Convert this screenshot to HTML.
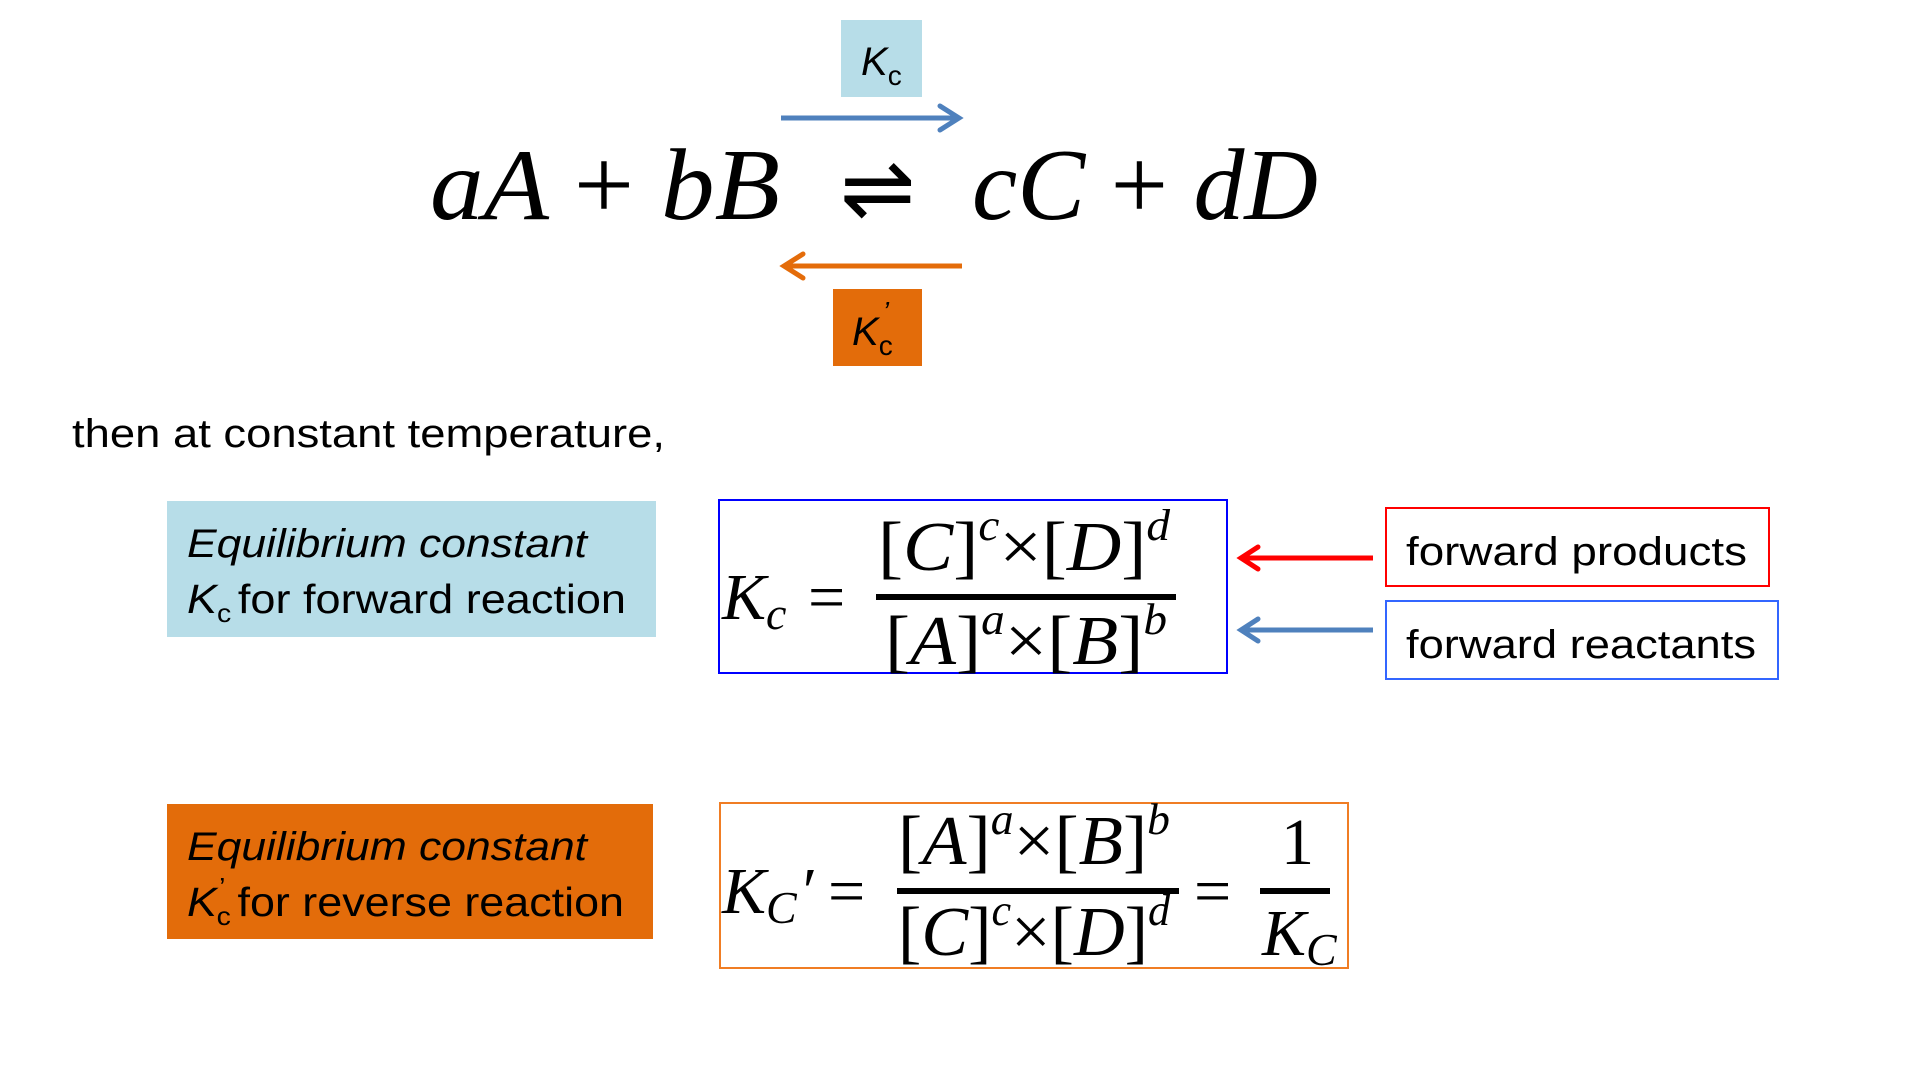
<!DOCTYPE html>
<html><head><meta charset="utf-8"><style>
html,body{margin:0;padding:0;background:#fff;width:1920px;height:1080px;overflow:hidden}
svg{display:block}
.m{font-family:"Liberation Serif",serif;font-style:italic}
.r{font-family:"Liberation Serif",serif}
.s{font-family:"Liberation Sans",sans-serif}
</style></head><body>
<svg width="1920" height="1080" viewBox="0 0 1920 1080" xmlns="http://www.w3.org/2000/svg">
<rect x="841" y="20" width="81" height="77" fill="#b7dde8"/>
<text x="861" y="75" class="s" font-style="italic" font-size="40">K<tspan font-size="28" dy="10" font-style="normal">c</tspan></text>
<line x1="781" y1="118" x2="958" y2="118" stroke="#4f81bd" stroke-width="5"/>
<polyline points="940,106 959,118 940,130" fill="none" stroke="#4f81bd" stroke-width="5" stroke-linecap="round"/>
<text x="430" y="219" class="m" font-size="102" textLength="350" lengthAdjust="spacingAndGlyphs">aA <tspan class="r" font-style="normal">+</tspan> bB</text>
<text x="840" y="219" class="r" font-size="90">⇌</text>
<text x="972" y="219" class="m" font-size="102" textLength="346" lengthAdjust="spacingAndGlyphs">cC <tspan class="r" font-style="normal">+</tspan> dD</text>
<line x1="784" y1="266" x2="962" y2="266" stroke="#e46c0a" stroke-width="5"/>
<polyline points="803,254 784,266 803,278" fill="none" stroke="#e46c0a" stroke-width="5" stroke-linecap="round"/>
<rect x="833" y="289" width="89" height="77" fill="#e36c0a"/>
<text x="852" y="345" class="s" font-style="italic" font-size="40">K<tspan font-size="28" dy="10" font-style="normal">c</tspan><tspan font-size="28" dx="-10" dy="-34">’</tspan></text>
<text x="72" y="447" class="s" font-size="40" textLength="593" lengthAdjust="spacingAndGlyphs">then at constant temperature,</text>
<rect x="167" y="501" width="489" height="136" fill="#b7dde8"/>
<text x="187" y="557" class="s" font-style="italic" font-size="40" textLength="400" lengthAdjust="spacingAndGlyphs">Equilibrium constant</text>
<text x="187" y="613" class="s" font-size="41" textLength="439" lengthAdjust="spacingAndGlyphs"><tspan font-style="italic">K</tspan><tspan font-size="26" dy="9">c</tspan><tspan dy="-9" dx="6">for forward reaction</tspan></text>
<rect x="719" y="500" width="508" height="173" fill="none" stroke="#0000ff" stroke-width="2"/>
<text x="722" y="619" class="m" font-size="66">K<tspan font-size="46" dy="10">c</tspan></text>
<text x="808" y="619" class="r" font-size="66">=</text>
<text x="878" y="570" class="r" font-size="70" textLength="292" lengthAdjust="spacingAndGlyphs">[<tspan class="m">C</tspan>]<tspan class="m" font-size="44" dy="-30">c</tspan><tspan dy="30">×[</tspan><tspan class="m">D</tspan>]<tspan class="m" font-size="44" dy="-30">d</tspan></text>
<rect x="876" y="594" width="300" height="6" fill="#000"/>
<text x="885" y="664" class="r" font-size="70" textLength="282" lengthAdjust="spacingAndGlyphs">[<tspan class="m">A</tspan>]<tspan class="m" font-size="44" dy="-30">a</tspan><tspan dy="30">×[</tspan><tspan class="m">B</tspan>]<tspan class="m" font-size="44" dy="-30">b</tspan></text>
<line x1="1245" y1="558" x2="1373" y2="558" stroke="#ff0000" stroke-width="5"/>
<polyline points="1258,547 1241,558 1258,569" fill="none" stroke="#ff0000" stroke-width="5" stroke-linecap="round"/>
<line x1="1245" y1="630" x2="1373" y2="630" stroke="#4f81bd" stroke-width="5"/>
<polyline points="1258,619 1241,630 1258,641" fill="none" stroke="#4f81bd" stroke-width="5" stroke-linecap="round"/>
<rect x="1386" y="508" width="383" height="78" fill="none" stroke="#ff0000" stroke-width="2"/>
<text x="1406" y="565" class="s" font-size="40" textLength="341" lengthAdjust="spacingAndGlyphs">forward products</text>
<rect x="1386" y="601" width="392" height="78" fill="none" stroke="#3366ff" stroke-width="2"/>
<text x="1406" y="658" class="s" font-size="40" textLength="350" lengthAdjust="spacingAndGlyphs">forward reactants</text>
<rect x="167" y="804" width="486" height="135" fill="#e36c0a"/>
<text x="187" y="860" class="s" font-style="italic" font-size="40" textLength="400" lengthAdjust="spacingAndGlyphs">Equilibrium constant</text>
<text x="187" y="916" class="s" font-size="41" textLength="437" lengthAdjust="spacingAndGlyphs"><tspan font-style="italic">K</tspan><tspan font-size="26" dx="2" dy="-20">’</tspan><tspan font-size="26" dx="-8" dy="29">c</tspan><tspan dy="-9" dx="6">for reverse reaction</tspan></text>
<rect x="720" y="803" width="628" height="165" fill="none" stroke="#f07d24" stroke-width="2"/>
<text x="722" y="913" class="m" font-size="66">K<tspan font-size="46" dy="10">C</tspan><tspan class="r" font-style="normal" dy="-10" dx="6">′</tspan></text>
<text x="828" y="913" class="r" font-size="66">=</text>
<text x="898" y="864" class="r" font-size="70" textLength="272" lengthAdjust="spacingAndGlyphs">[<tspan class="m">A</tspan>]<tspan class="m" font-size="44" dy="-30">a</tspan><tspan dy="30">×[</tspan><tspan class="m">B</tspan>]<tspan class="m" font-size="44" dy="-30">b</tspan></text>
<rect x="897" y="888" width="282" height="6" fill="#000"/>
<text x="898" y="955" class="r" font-size="70" textLength="272" lengthAdjust="spacingAndGlyphs">[<tspan class="m">C</tspan>]<tspan class="m" font-size="44" dy="-30">c</tspan><tspan dy="30">×[</tspan><tspan class="m">D</tspan>]<tspan class="m" font-size="44" dy="-30">d</tspan></text>
<text x="1194" y="913" class="r" font-size="66">=</text>
<text x="1281" y="864" class="r" font-size="66">1</text>
<rect x="1260" y="888" width="70" height="6" fill="#000"/>
<text x="1262" y="955" class="m" font-size="66">K<tspan font-size="46" dy="10">C</tspan></text>
</svg>
</body></html>
